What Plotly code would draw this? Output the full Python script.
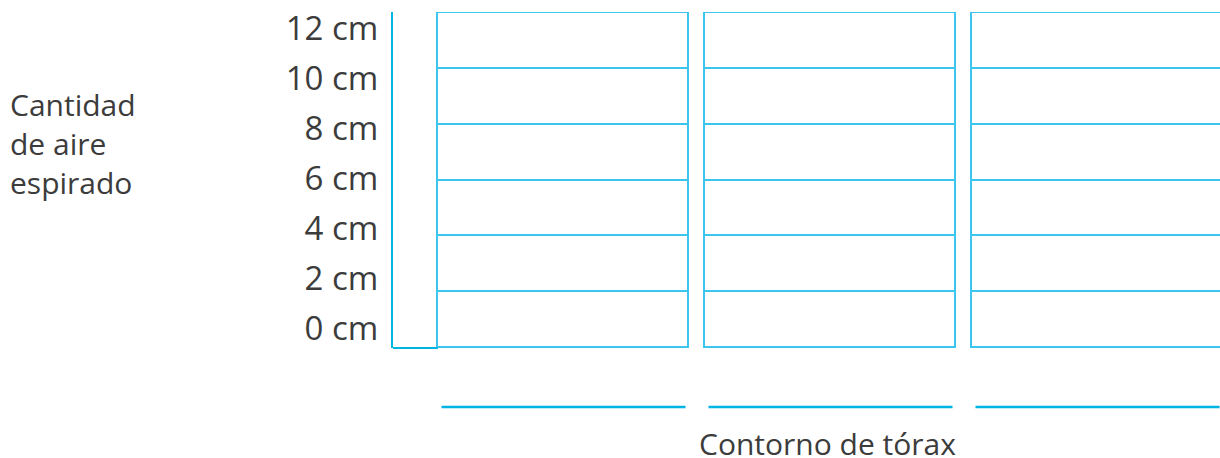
import plotly.graph_objects as go

# ---- data ----
columns = [0, 1, 2]                 # three blank columns (categories)
rows = [1, 1, 1, 1, 1, 1]           # six empty cells per column
tick_values = [0, 2, 4, 6, 8, 10, 12]
tick_labels = ["0 cm", "2 cm", "4 cm", "6 cm", "8 cm", "10 cm", "12 cm"]
y_title_text = "Cantidad<br>de aire<br>espirado"
x_title_text = "Contorno de tórax"

TEXT = "#3c3c3c"
AXIS = "#00b4e4"
CELL = "#3cc6ef"
FONT = "Open Sans"

fig = go.Figure()
for r in rows:
    fig.add_trace(go.Bar(
        x=columns, y=[r] * len(columns), width=0.94,
        marker=dict(color="white", line=dict(color=CELL, width=1.6)),
        yaxis="y2", showlegend=False, hoverinfo="skip"))

# invisible trace so the cm axis is drawn
fig.add_trace(go.Scatter(x=[columns[0]] * len(tick_values), y=tick_values, mode="markers",
                         marker=dict(opacity=0), showlegend=False, hoverinfo="skip",
                         yaxis="y"))

# y-axis corner piece
fig.add_shape(type="line", xref="x", yref="paper", x0=-0.6386, x1=-0.47,
              y0=0, y1=0, line=dict(color=AXIS, width=2.2))
# blank label lines under each column
for c in columns:
    fig.add_shape(type="line", xref="x", yref="paper", x0=c - 0.457, x1=c + 0.457,
                  y0=-0.1756, y1=-0.1756, line=dict(color=AXIS, width=2.5))

fig.add_annotation(text=x_title_text, xref="x", yref="paper", x=0.99, y=-0.284,
                   xanchor="center", yanchor="middle", showarrow=False,
                   font=dict(family=FONT, size=30, color=TEXT))
fig.add_annotation(text=y_title_text, xref="paper", yref="paper", x=-0.465, y=0.61,
                   xanchor="left", yanchor="middle", align="left", showarrow=False,
                   font=dict(family=FONT, size=30, color=TEXT))

fig.update_layout(
    width=1220, height=458,
    margin=dict(l=393, r=0, t=12, b=110),
    paper_bgcolor="white", plot_bgcolor="white",
    barmode="stack", bargap=0,
    xaxis=dict(range=[-0.6386, 2.4588], showgrid=False, zeroline=False,
               showticklabels=False, showline=False, ticks=""),
    yaxis=dict(range=[-0.8, 12.64], tickvals=tick_values, ticktext=tick_labels,
               showgrid=False, zeroline=False, showline=True, linecolor=AXIS,
               linewidth=2.2, ticks="", ticklabelstandoff=6,
               ticklabeloverflow="allow",
               tickfont=dict(family=FONT, size=33, color=TEXT)),
    yaxis2=dict(range=[0, 6.018], overlaying="y", showgrid=False, zeroline=False,
                showticklabels=False, showline=False),
)

fig.write_html(
    "out.html",
    config={"displayModeBar": False},
    post_script="document.body.style.margin='0';document.body.style.overflow='hidden';",
)
